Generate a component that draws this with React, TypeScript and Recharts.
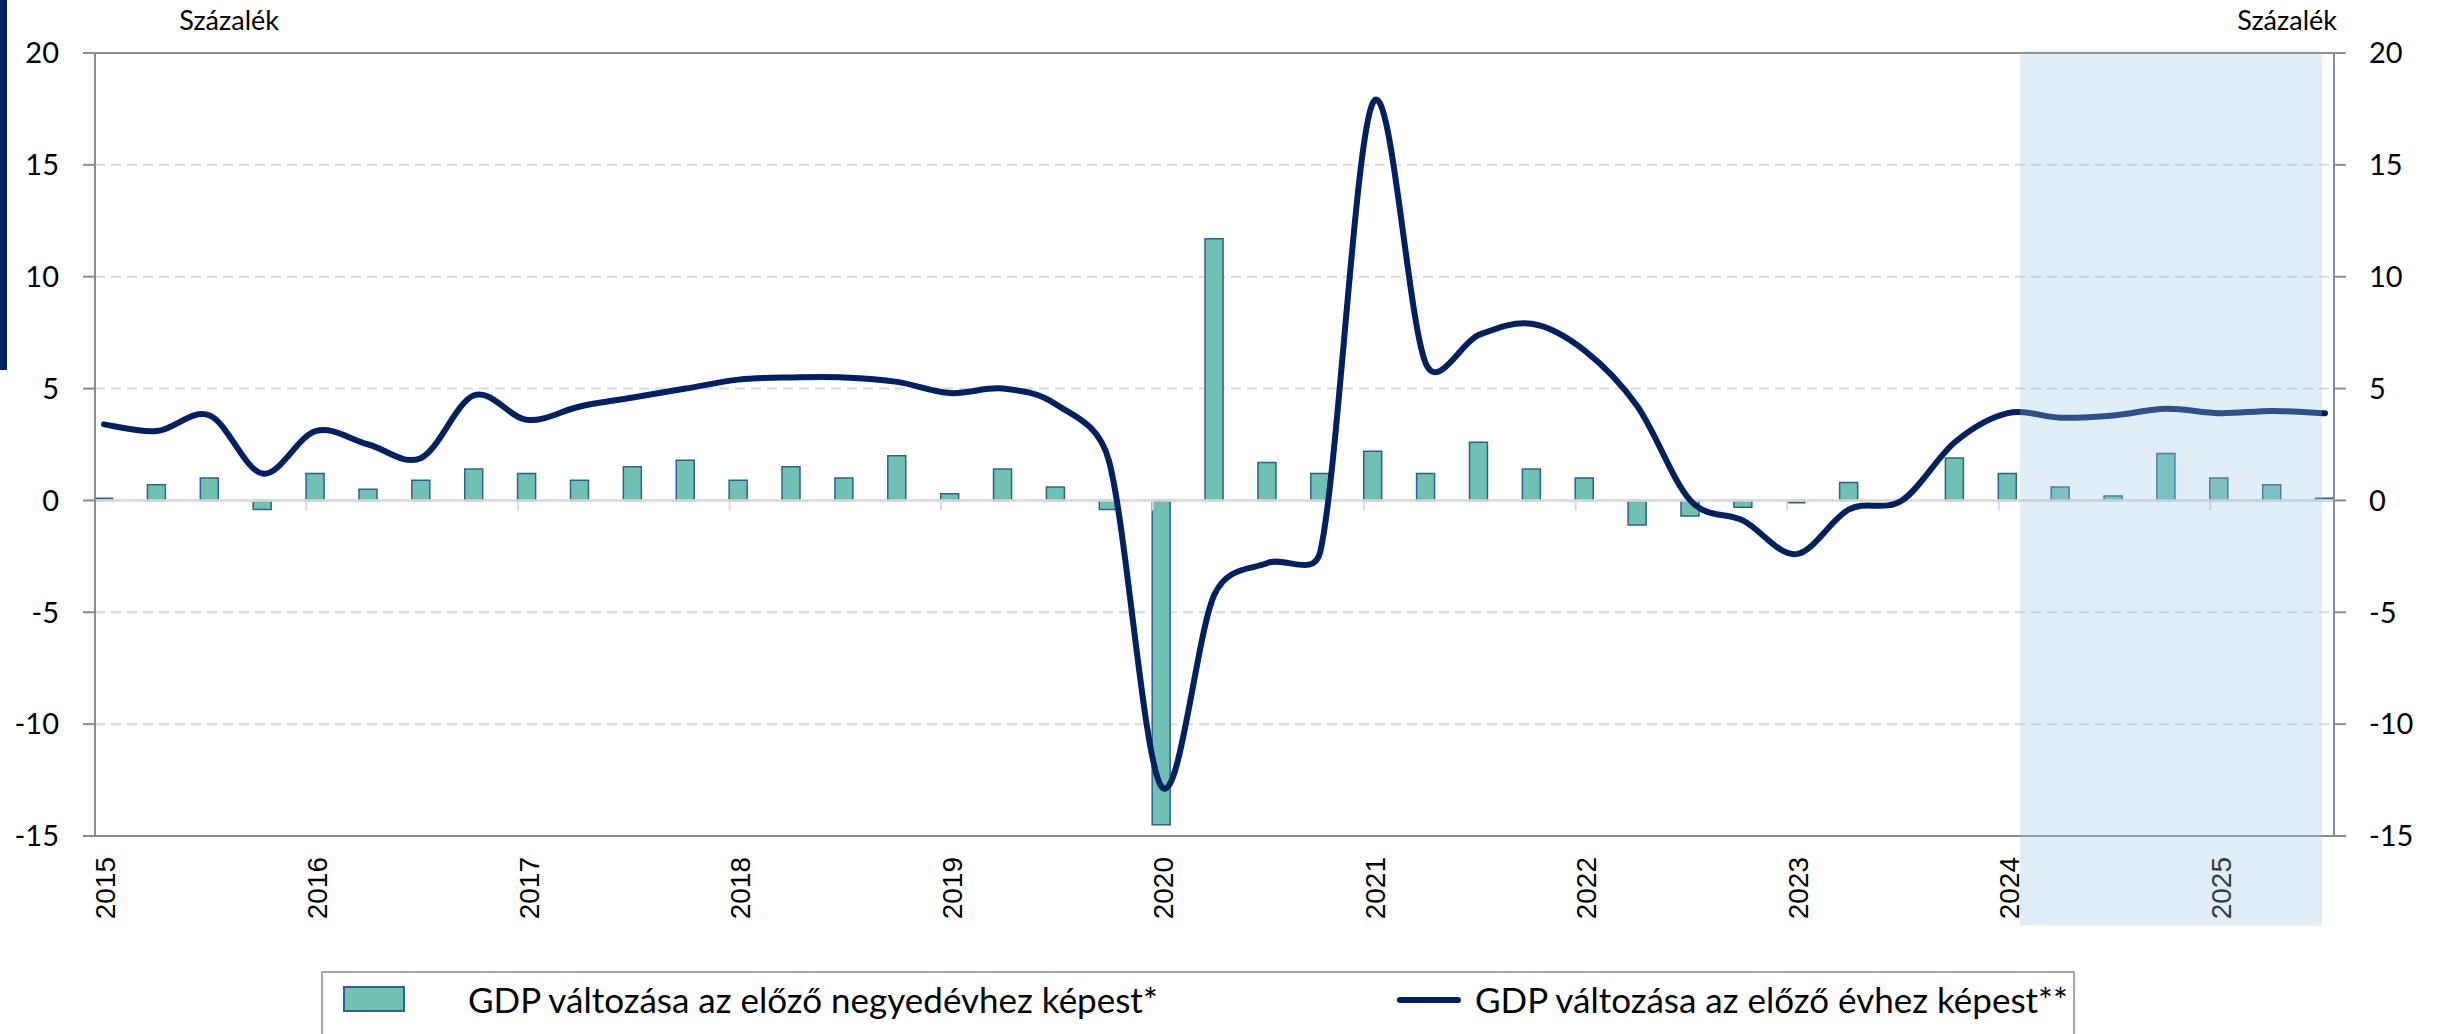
import React from 'react'
import {
  ComposedChart,
  Bar,
  Line,
  XAxis,
  YAxis,
  CartesianGrid,
  ReferenceLine,
  ReferenceArea,
} from 'recharts'

const quarters = [
  '2015 Q1', '2015 Q2', '2015 Q3', '2015 Q4',
  '2016 Q1', '2016 Q2', '2016 Q3', '2016 Q4',
  '2017 Q1', '2017 Q2', '2017 Q3', '2017 Q4',
  '2018 Q1', '2018 Q2', '2018 Q3', '2018 Q4',
  '2019 Q1', '2019 Q2', '2019 Q3', '2019 Q4',
  '2020 Q1', '2020 Q2', '2020 Q3', '2020 Q4',
  '2021 Q1', '2021 Q2', '2021 Q3', '2021 Q4',
  '2022 Q1', '2022 Q2', '2022 Q3', '2022 Q4',
  '2023 Q1', '2023 Q2', '2023 Q3', '2023 Q4',
  '2024 Q1', '2024 Q2', '2024 Q3', '2024 Q4',
  '2025 Q1', '2025 Q2', '2025 Q3',
]

// change on previous quarter (bars)
const qoqGrowth = [
  0.1, 0.7, 1.0, -0.4,
  1.2, 0.5, 0.9, 1.4,
  1.2, 0.9, 1.5, 1.8,
  0.9, 1.5, 1.0, 2.0,
  0.3, 1.4, 0.6, -0.4,
  -14.5, 11.7, 1.7, 1.2,
  2.2, 1.2, 2.6, 1.4,
  1.0, -1.1, -0.7, -0.3,
  -0.1, 0.8, 0.0, 1.9,
  1.2, 0.6, 0.2, 2.1,
  1.0, 0.7, 0.1,
]

// change on same quarter of previous year (line)
const yoyGrowth = [
  3.4, 3.1, 3.8, 1.2,
  3.1, 2.5, 1.9, 4.7,
  3.6, 4.2, 4.6, 5.0,
  5.4, 5.5, 5.5, 5.3,
  4.8, 5.0, 4.3, 1.8,
  -12.8, -4.2, -2.8, -2.3,
  17.8, 6.1, 7.4, 7.9,
  6.7, 4.2, 0.0, -0.9,
  -2.4, -0.4, 0.0, 2.6,
  3.9, 3.7, 3.8, 4.1,
  3.9, 4.0, 3.9,
]

const yearLabels = ['2015', '2016', '2017', '2018', '2019', '2020', '2021', '2022', '2023', '2024', '2025']
const yTicks = [-15, -10, -5, 0, 5, 10, 15, 20]

// shaded (forecast) period, in quarter-index units
const forecastBand = [36.23, 41.94]

const X_PAD = 0.17
const FONT = 'Lato, "Open Sans", sans-serif'
const AXIS_GREY = '#8c8c8c'
const TEAL = '#70c1b3'
const NAVY = '#002060'

const rows = quarters.map((q, i) => ({ idx: i, quarter: q, qoq: qoqGrowth[i], yoy: yoyGrowth[i] }))
const yearTickIdx = yearLabels.map((y) => quarters.indexOf(`${y} Q1`))

// Excel-like smoothed line: bezier segments, handle length capped at half the segment
function excelSmooth(context: any) {
  let pts: number[][] = []
  return {
    areaStart() {},
    areaEnd() {},
    lineStart() {
      pts = []
    },
    point(x: number, y: number) {
      pts.push([+x, +y])
    },
    lineEnd() {
      const n = pts.length
      if (!n) return
      const dist = (a: number[], b: number[]) => Math.hypot(a[0] - b[0], a[1] - b[1])
      context.moveTo(pts[0][0], pts[0][1])
      for (let i = 0; i < n - 1; i++) {
        const p0 = pts[Math.max(i - 1, 0)]
        const p1 = pts[i]
        const p2 = pts[i + 1]
        const p3 = pts[Math.min(i + 2, n - 1)]
        const d12 = dist(p1, p2)
        const d02 = dist(p0, p2)
        const d13 = dist(p1, p3)
        const f1 = d02 / 6 < d12 / 2 || d02 === 0 ? 1 / 6 : d12 / d02 / 2
        const f2 = d13 / 6 < d12 / 2 || d13 === 0 ? 1 / 6 : d12 / d13 / 2
        context.bezierCurveTo(
          p1[0] + f1 * (p2[0] - p0[0]),
          p1[1] + f1 * (p2[1] - p0[1]),
          p2[0] - f2 * (p3[0] - p1[0]),
          p2[1] - f2 * (p3[1] - p1[1]),
          p2[0],
          p2[1],
        )
      }
    },
  }
}

const YearTick = ({ x, y, payload }: any) => {
  const label = yearLabels[yearTickIdx.indexOf(payload.value)]
  return (
    <text
      x={x + 2}
      y={y}
      transform={`rotate(-90 ${x + 2} ${y})`}
      textAnchor="end"
      dominantBaseline="central"
      fontSize={28}
      fontFamily='"Liberation Sans", Arial, sans-serif'
      fill="#000"
    >
      {label}
    </text>
  )
}

export default function App() {
  const axisLine = { stroke: AXIS_GREY, strokeWidth: 2 }
  return (
    <div
      style={{
        position: 'absolute',
        left: 0,
        top: 0,
        width: 2446,
        height: 1034,
        overflow: 'hidden',
        background: '#fff',
        fontFamily: FONT,
      }}
    >
      <div style={{ position: 'absolute', left: 0, top: 0, width: 7, height: 370, background: NAVY }} />
      <div style={{ position: 'absolute', right: 2446 - 279, top: 6, fontSize: 27, lineHeight: '27px', color: '#000' }}>
        Százalék
      </div>
      <div style={{ position: 'absolute', right: 2446 - 2337, top: 6, fontSize: 27, lineHeight: '27px', color: '#000' }}>
        Százalék
      </div>

      <ComposedChart width={2446} height={1034} data={rows} margin={{ top: 53, right: 0, bottom: 108, left: 0 }}>
        <CartesianGrid yAxisId="left" vertical={false} stroke="#d9d9d9" strokeWidth={2} strokeDasharray="10 6" />
        <XAxis
          type="number"
          dataKey="idx"
          domain={[-X_PAD, quarters.length - 1 + X_PAD]}
          allowDataOverflow
          ticks={yearTickIdx}
          interval={0}
          tick={<YearTick />}
          tickLine={false}
          tickSize={0}
          tickMargin={21}
          axisLine={axisLine}
          height={90}
        />
        <YAxis
          yAxisId="left"
          domain={[-15, 20]}
          allowDataOverflow
          ticks={yTicks}
          interval={0}
          width={95}
          tickSize={12}
          tickMargin={24}
          axisLine={axisLine}
          tickLine={axisLine}
          tick={{ fill: '#000', fontSize: 29, fontFamily: FONT }}
        />
        <YAxis
          yAxisId="right"
          orientation="right"
          domain={[-15, 20]}
          allowDataOverflow
          ticks={yTicks}
          interval={0}
          width={112}
          tickSize={12}
          tickMargin={23}
          axisLine={axisLine}
          tickLine={axisLine}
          tick={{ fill: '#000', fontSize: 29, fontFamily: FONT }}
        />
        <ReferenceLine yAxisId="left" y={20} stroke={AXIS_GREY} strokeWidth={2} />
        <ReferenceLine yAxisId="left" y={0} stroke="#d9d9d9" strokeWidth={2.5} />
        {yearTickIdx.map((t) => (
          <ReferenceLine
            key={t}
            yAxisId="left"
            segment={[
              { x: t - X_PAD, y: 0 },
              { x: t - X_PAD, y: -0.45 },
            ]}
            stroke="#d9d9d9"
            strokeWidth={2}
          />
        ))}
        <Bar
          yAxisId="left"
          dataKey="qoq"
          name="GDP változása az előző negyedévhez képest*"
          fill={TEAL}
          stroke="#2e6190"
          strokeWidth={1.5}
          barSize={18}
          isAnimationActive={false}
        />
        <Line
          yAxisId="left"
          dataKey="yoy"
          name="GDP változása az előző évhez képest**"
          type={excelSmooth as any}
          stroke={NAVY}
          strokeWidth={6}
          strokeLinecap="round"
          strokeLinejoin="round"
          dot={false}
          activeDot={false}
          isAnimationActive={false}
        />
        <ReferenceArea
          yAxisId="left"
          x1={forecastBand[0]}
          x2={forecastBand[1]}
          y1={20}
          y2={-19}
          ifOverflow="visible"
          fill="#9dc3e6"
          fillOpacity={0.3}
          stroke="none"
          {...({ zIndex: 2000 } as any)}
        />
      </ComposedChart>

      <div
        style={{
          position: 'absolute',
          left: 321,
          top: 971,
          width: 1754,
          height: 80,
          boxSizing: 'border-box',
          border: '2px solid #a6a6a6',
          background: '#fff',
          fontSize: 35,
          lineHeight: '35px',
          color: '#000',
        }}
      >
        <div
          style={{
            position: 'absolute',
            left: 20,
            top: 13,
            width: 62,
            height: 26,
            boxSizing: 'border-box',
            background: TEAL,
            border: '2px solid #2e6190',
          }}
        />
        <div style={{ position: 'absolute', left: 145, top: 9, whiteSpace: 'nowrap' }}>
          GDP változása az előző negyedévhez képest*
        </div>
        <div
          style={{
            position: 'absolute',
            left: 1074,
            top: 24,
            width: 64,
            height: 6,
            borderRadius: 3,
            background: NAVY,
          }}
        />
        <div style={{ position: 'absolute', left: 1152, top: 9, whiteSpace: 'nowrap' }}>
          GDP változása az előző évhez képest**
        </div>
      </div>
    </div>
  )
}
